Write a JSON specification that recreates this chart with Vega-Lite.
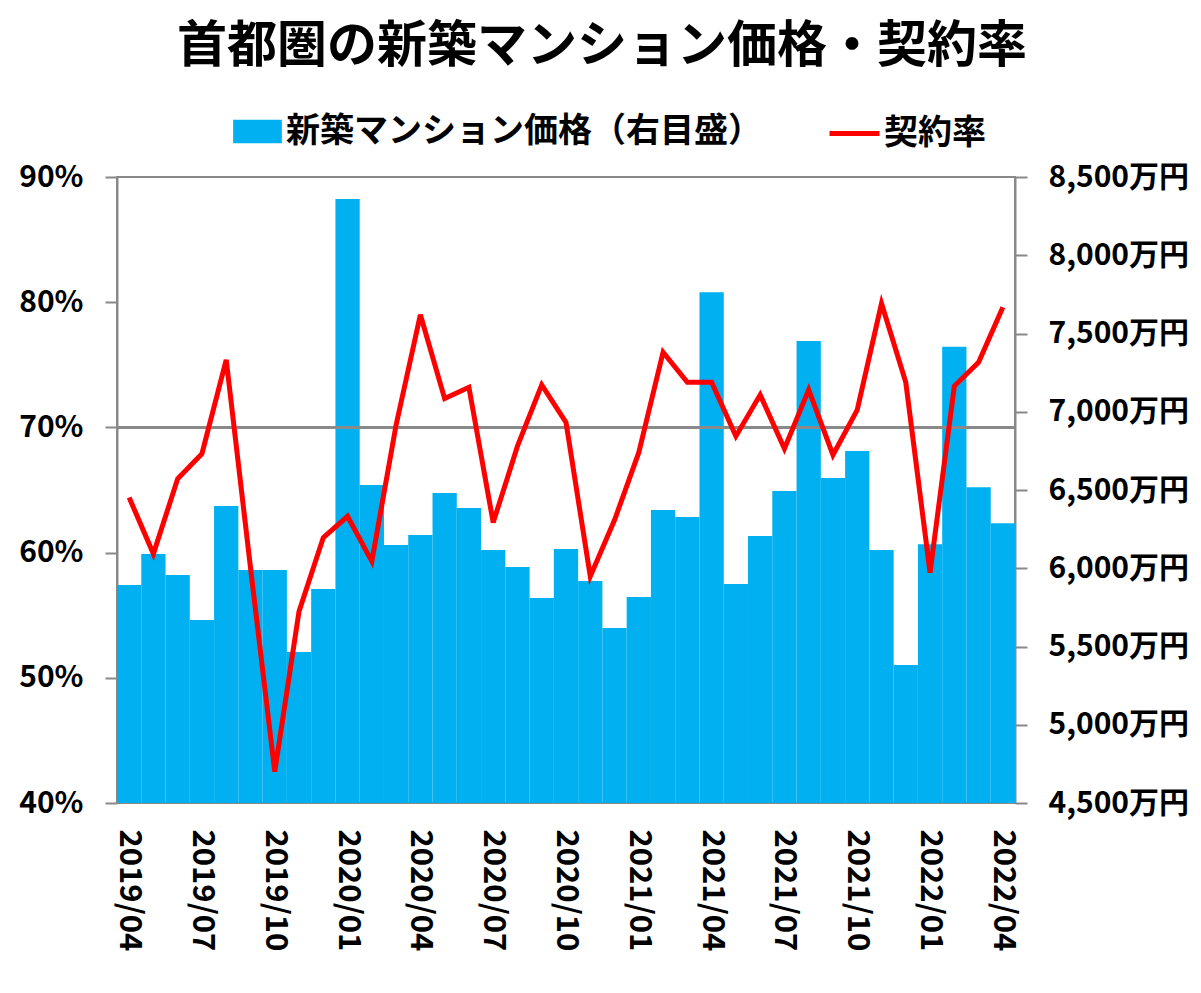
{
  "$schema": "https://vega.github.io/schema/vega-lite/v6.json",
  "width": 898,
  "height": 626,
  "autosize": {"type": "none"},
  "padding": {"left": 117, "top": 177, "right": 186, "bottom": 190},
  "background": "#ffffff",
  "title": {
    "text": "首都圏の新築マンション価格・契約率",
    "font": "Noto Sans CJK JP",
    "fontSize": 50,
    "fontWeight": "bold",
    "color": "#000000",
    "anchor": "middle",
    "frame": "group",
    "dx": 36,
    "offset": 34
  },
  "config": {
    "view": {"stroke": "#898989", "strokeWidth": 2},
    "axis": {
      "labelFont": "Noto Sans CJK JP",
      "labelFontWeight": "bold",
      "labelColor": "#000000",
      "domainColor": "#898989",
      "domainWidth": 2,
      "tickColor": "#898989",
      "tickWidth": 2,
      "grid": false,
      "title": null
    },
    "legend": {
      "labelFont": "Noto Sans CJK JP",
      "labelFontWeight": "bold",
      "labelFontSize": 34,
      "labelColor": "#000000",
      "labelLimit": 0,
      "padding": 0,
      "labelOffset": 4,
      "orient": "none"
    }
  },
  "data": {
    "values": [
      {"month": "2019/04", "price": 5893, "rate": 64.4},
      {"month": "2019/05", "price": 6091, "rate": 59.9},
      {"month": "2019/06", "price": 5957, "rate": 65.9},
      {"month": "2019/07", "price": 5669, "rate": 67.9},
      {"month": "2019/08", "price": 6398, "rate": 75.4},
      {"month": "2019/09", "price": 5989, "rate": 58.8},
      {"month": "2019/10", "price": 5989, "rate": 42.5},
      {"month": "2019/11", "price": 5465, "rate": 55.3},
      {"month": "2019/12", "price": 5867, "rate": 61.2},
      {"month": "2020/01", "price": 8360, "rate": 62.9},
      {"month": "2020/02", "price": 6532, "rate": 59.3},
      {"month": "2020/03", "price": 6149, "rate": 70.2},
      {"month": "2020/04", "price": 6212, "rate": 79.0},
      {"month": "2020/05", "price": 6481, "rate": 72.3},
      {"month": "2020/06", "price": 6385, "rate": 73.2},
      {"month": "2020/07", "price": 6117, "rate": 62.4},
      {"month": "2020/08", "price": 6008, "rate": 68.5},
      {"month": "2020/09", "price": 5810, "rate": 73.4},
      {"month": "2020/10", "price": 6123, "rate": 70.4},
      {"month": "2020/11", "price": 5919, "rate": 58.1},
      {"month": "2020/12", "price": 5618, "rate": 62.6},
      {"month": "2021/01", "price": 5816, "rate": 68.0},
      {"month": "2021/02", "price": 6372, "rate": 76.0},
      {"month": "2021/03", "price": 6327, "rate": 73.6},
      {"month": "2021/04", "price": 7763, "rate": 73.6},
      {"month": "2021/05", "price": 5899, "rate": 69.3},
      {"month": "2021/06", "price": 6206, "rate": 72.6},
      {"month": "2021/07", "price": 6494, "rate": 68.3},
      {"month": "2021/08", "price": 7452, "rate": 73.0},
      {"month": "2021/09", "price": 6577, "rate": 67.8},
      {"month": "2021/10", "price": 6749, "rate": 71.4},
      {"month": "2021/11", "price": 6117, "rate": 79.9},
      {"month": "2021/12", "price": 5382, "rate": 73.6},
      {"month": "2022/01", "price": 6153, "rate": 58.4},
      {"month": "2022/02", "price": 7416, "rate": 73.3},
      {"month": "2022/03", "price": 6517, "rate": 75.2},
      {"month": "2022/04", "price": 6287, "rate": 79.6}
    ]
  },
  "layer": [
    {
      "mark": {"type": "bar", "width": {"band": 1}},
      "encoding": {
        "x": {
          "field": "month",
          "type": "ordinal",
          "sort": null,
          "scale": {"paddingInner": 0, "paddingOuter": 0},
          "axis": {
            "values": ["2019/04", "2019/07", "2019/10", "2020/01", "2020/04", "2020/07", "2020/10", "2021/01", "2021/04", "2021/07", "2021/10", "2022/01", "2022/04"],
            "labelAngle": 90,
            "labelAlign": "left",
            "labelBaseline": "middle",
            "labelFontSize": 31,
            "labelPadding": 26,
            "ticks": false,
            "domain": false,
            "labelOverlap": false
          }
        },
        "y": {
          "field": "price",
          "type": "quantitative",
          "scale": {"domain": [4500, 8500], "zero": false, "nice": false},
          "axis": {
            "orient": "right",
            "values": [4500, 5000, 5500, 6000, 6500, 7000, 7500, 8000, 8500],
            "labelExpr": "format(datum.value, ',') + '万円'",
            "labelFontSize": 30,
            "labelPadding": 21,
            "tickSize": 12,
            "labelAlign": "left"
          }
        },
        "y2": {"datum": 4500},
        "fill": {
          "datum": "新築マンション価格（右目盛）",
          "scale": {"range": ["#00B0F0"]},
          "legend": {
            "symbolType": "M-1,-0.48H1V0.48H-1Z",
            "symbolSize": 2372,
            "symbolStrokeWidth": 0,
            "legendX": 116,
            "legendY": -70
          }
        }
      }
    },
    {
      "layer": [
        {
          "mark": {"type": "rule", "color": "#898989", "strokeWidth": 2},
          "encoding": {
            "y": {"datum": 70, "type": "quantitative"}
          }
        },
        {
          "mark": {"type": "line", "strokeWidth": 5, "strokeJoin": "miter"},
          "encoding": {
            "x": {"field": "month", "type": "ordinal", "sort": null},
            "y": {
              "field": "rate",
              "type": "quantitative",
              "scale": {"domain": [40, 90], "zero": false, "nice": false},
              "axis": {
                "orient": "left",
                "values": [40, 50, 60, 70, 80, 90],
                "labelExpr": "datum.value + '%'",
                "labelFontSize": 30,
                "labelPadding": 22,
                "tickSize": 12
              }
            },
            "stroke": {
              "datum": "契約率",
              "scale": {"range": ["#FF0000"]},
              "legend": {
                "symbolType": "stroke",
                "symbolSize": 2500,
                "symbolStrokeWidth": 5,
                "labelOffset": 2,
                "legendX": 710,
                "legendY": -71
              }
            }
          }
        }
      ]
    }
  ],
  "resolve": {"scale": {"y": "independent"}}
}
